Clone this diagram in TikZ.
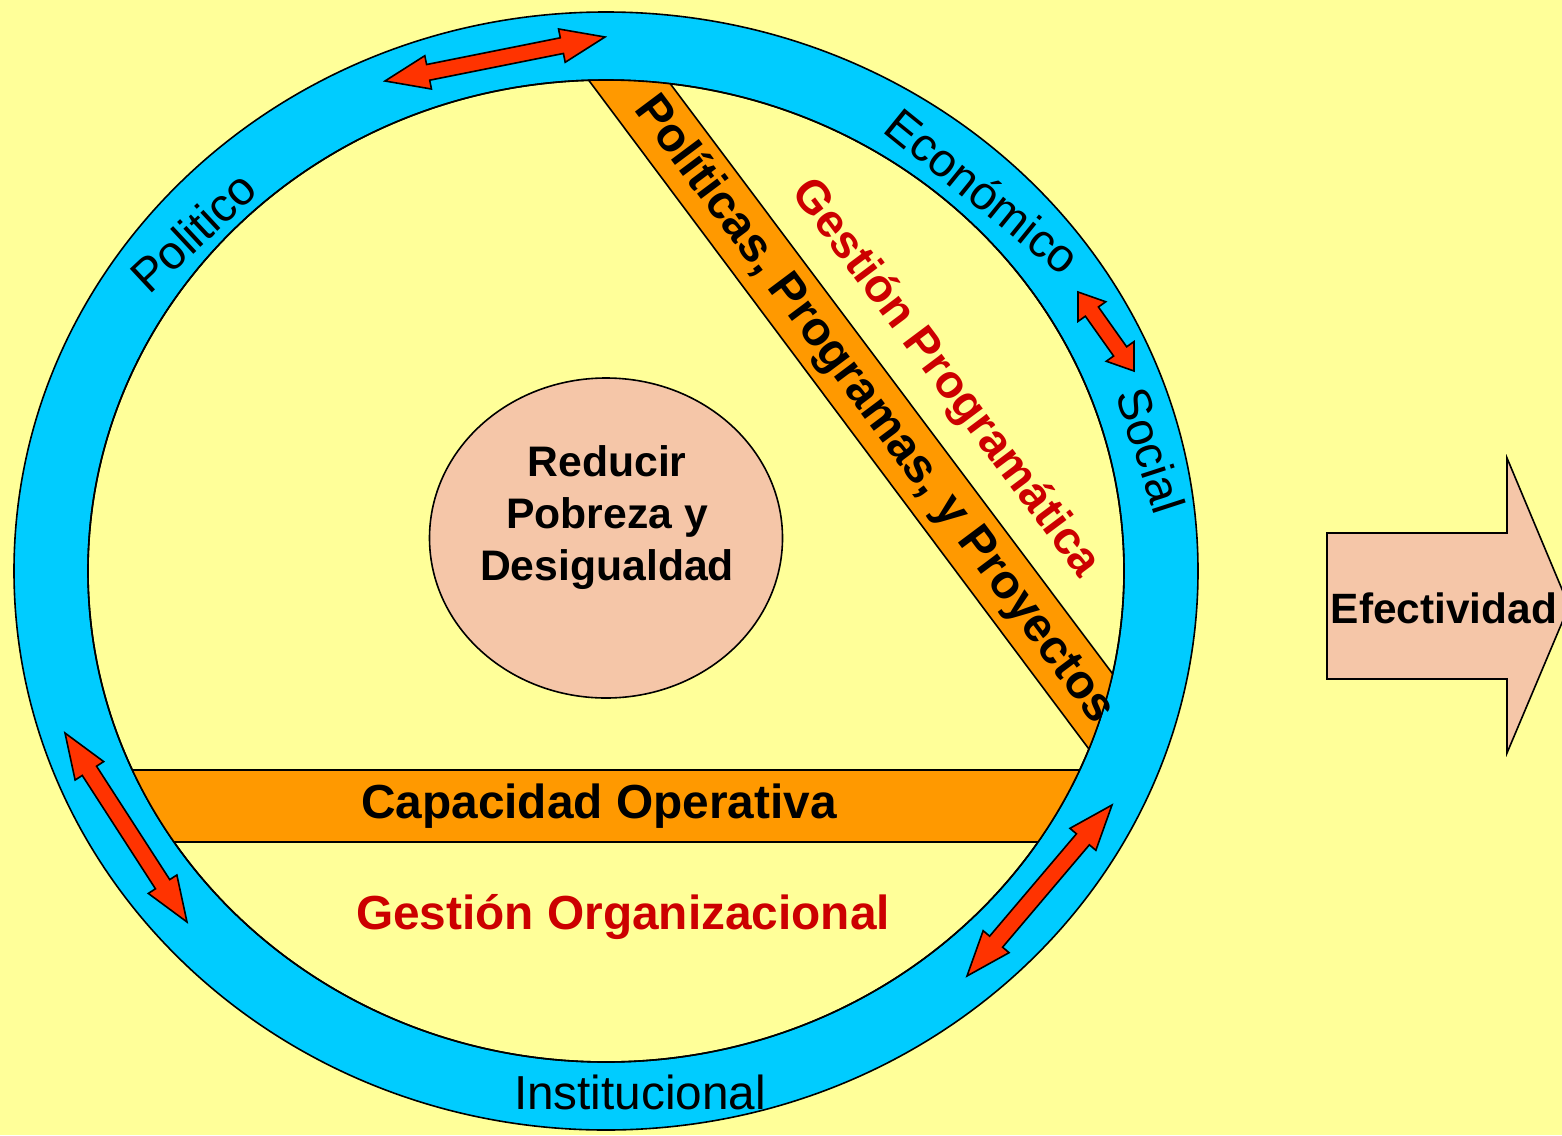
\documentclass[tikz,border=0pt]{standalone}
\usepackage{fontspec}
\setmainfont{Liberation Sans}
\usetikzlibrary{calc,shapes.geometric}
\definecolor{bgyellow}{HTML}{FFFF99}
\definecolor{ringblue}{HTML}{00CCFF}
\definecolor{bandorange}{HTML}{FF9900}
\definecolor{arrowred}{HTML}{FF3300}
\definecolor{textred}{HTML}{CC0000}
\definecolor{peach}{HTML}{F5C6A8}
\newcommand\dbarrow[6]{%
  \coordinate (#1a) at #2;
  \coordinate (#1b) at #3;
  \coordinate (#1h) at ($(#1a)!#4!(#1b)$);
  \coordinate (#1k) at ($(#1b)!#4!(#1a)$);
  \draw[redarrow] (#1a) -- ($(#1h)!#5!90:(#1b)$) -- ($(#1h)!#6!90:(#1b)$)
    -- ($(#1k)!#6!-90:(#1a)$) -- ($(#1k)!#5!-90:(#1a)$) -- (#1b)
    -- ($(#1k)!#5!90:(#1a)$) -- ($(#1k)!#6!90:(#1a)$)
    -- ($(#1h)!#6!-90:(#1b)$) -- ($(#1h)!#5!-90:(#1b)$) -- cycle;
}
\tikzset{
  outline/.style={draw=black, line width=1.6pt},
  redarrow/.style={fill=arrowred, draw=black, line width=1.6pt, line join=miter},
  ringlabel/.style={font=\fontsize{47}{50}\selectfont, inner sep=0pt},
  boldlabel/.style={font=\fontsize{47.8}{52}\selectfont\bfseries, inner sep=0pt},
}
\begin{document}
\begin{tikzpicture}[x=1pt, y=-1pt]
\useasboundingbox (0,0) rectangle (1562,1135);
\fill[bgyellow] (0,0) rectangle (1562,1135);
% ring
\fill[ringblue, outline] (606,571) ellipse [x radius=592pt, y radius=559pt];
\fill[bgyellow, outline] (606,571) ellipse [x radius=518pt, y radius=491pt];
% bands clipped to inner ellipse
\begin{scope}
  \clip (606,571) ellipse [x radius=518pt, y radius=491pt];
  \fill[bandorange, outline] (-10,770) rectangle (1600,842);
  \fill[bandorange, outline] (528.7,0) -- (607.5,0) -- (1282.2,900) -- (1201.8,900) -- cycle;
\end{scope}
\draw[outline] (606,571) ellipse [x radius=518pt, y radius=491pt];
% centre circle
\node[draw=black, line width=1.6pt, fill=peach, ellipse, minimum width=353pt, minimum height=320pt, inner sep=0pt] (goalc) at (606,538) {};
\node[font=\fontsize{42.7}{52}\selectfont\bfseries, align=center, inner sep=0pt] (goal) at (607,518) {Reducir\\Pobreza y\\Desigualdad};
% band texts
\node[boldlabel] (cap) at (599,806) {Capacidad Operativa};
\node[boldlabel, rotate=-53.2] (ppp) at (874,410) {Políticas, Programas, y Proyectos};
\node[boldlabel, text=textred, font=\fontsize{46.5}{50}\selectfont\bfseries, rotate=-53.2] (gp) at (945,379) {Gestión Programática};
\node[boldlabel, text=textred] (go) at (623,917) {Gestión Organizacional};
% ring labels
\node[ringlabel, rotate=43] (pol) at (193,232) {Politico};
\node[ringlabel, rotate=-39] (eco) at (983,191) {Económico};
\node[ringlabel, rotate=-72] (soc) at (1151,450) {Social};
\node[ringlabel, font=\fontsize{47.7}{50}\selectfont] (ins) at (640,1092) {Institucional};
% red double arrows
\dbarrow{ta}{(385,81)}{(605,37)}{44pt}{17pt}{8pt}
\dbarrow{ra}{(1078,292)}{(1134,371)}{24pt}{17pt}{8pt}
\dbarrow{la}{(65,733)}{(187,922)}{45pt}{17pt}{8.5pt}
\dbarrow{ba}{(1112,805)}{(967,976)}{45pt}{17pt}{8.5pt}
% Efectividad arrow
\draw[fill=peach, outline, line join=miter] (1327,533) -- (1507,533) -- (1507,458) -- (1569,606) -- (1507,753) -- (1507,679) -- (1327,679) -- cycle;
\node[font=\fontsize{42.4}{48}\selectfont\bfseries, inner sep=0pt] (efe) at (1444,608) {Efectividad};
\end{tikzpicture}
\end{document}
